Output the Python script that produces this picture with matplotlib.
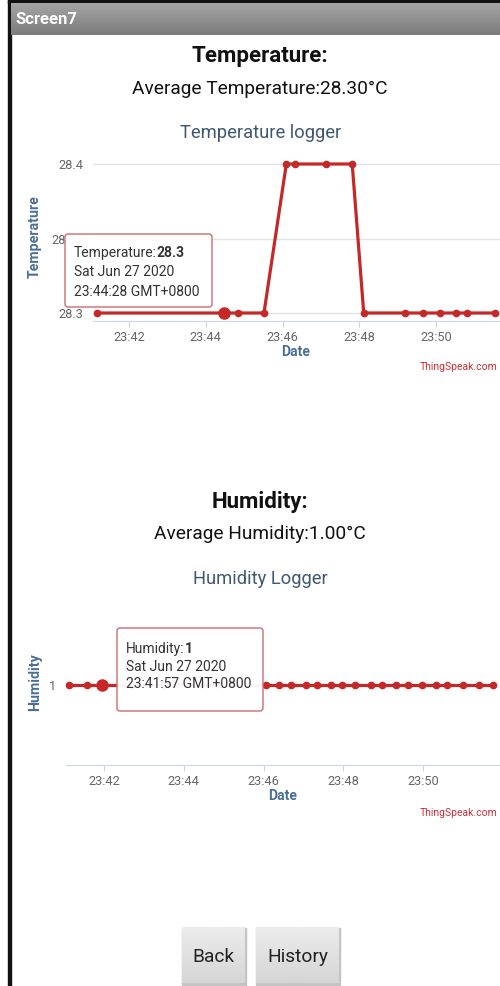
import matplotlib
matplotlib.use('Agg')
import matplotlib.pyplot as plt
from matplotlib.patches import Rectangle, FancyBboxPatch
import numpy as np

plt.rcParams['font.family'] = ['Roboto', 'DejaVu Sans']

W, H = 500, 986

# --- data ---
temp_times = ['23:41:10', '23:44:28', '23:44:51', '23:45:31', '23:46:06', '23:46:20',
              '23:47:08', '23:47:49', '23:48:07', '23:49:11', '23:49:39', '23:50:07',
              '23:50:31', '23:50:48', '23:51:33']
temp_values = [28.3, 28.3, 28.3, 28.3, 28.4, 28.4, 28.4, 28.4, 28.3, 28.3, 28.3, 28.3,
               28.3, 28.3, 28.3]
temp_yticks = [28.3, 28.35, 28.4]

hum_times = ['23:41:07', '23:41:34', '23:41:57', '23:42:40', '23:43:30', '23:44:28',
             '23:44:51', '23:45:31', '23:46:04', '23:46:24', '23:46:42', '23:47:04',
             '23:47:21', '23:47:42', '23:47:58', '23:48:18', '23:48:42', '23:48:58',
             '23:49:19', '23:49:37', '23:49:58', '23:50:19', '23:50:36', '23:51:00',
             '23:51:24', '23:51:46']
hum_values = [1] * len(hum_times)
hum_yticks = [1]

xtick_labels = ['23:42', '23:44', '23:46', '23:48', '23:50']

line_red = '#c62828'
title_blue = '#3e5870'
axis_blue = '#4a6f96'


def to_min(s):
    h, m, sec = [int(p) for p in s.split(':')]
    return (h - 23) * 60 + m + sec / 60.0


def px_axes(fig, x0, y0, x1, y1):
    return fig.add_axes([x0 / W, 1 - y1 / H, (x1 - x0) / W, (y1 - y0) / H])


fig = plt.figure(figsize=(W / 100, H / 100), dpi=100)

# background layer in pixel coordinates
bg = fig.add_axes([0, 0, 1, 1], zorder=0)
bg.set_xlim(0, W)
bg.set_ylim(H, 0)
bg.axis('off')
bg.add_patch(Rectangle((0, 0), W, H, color='white'))
bg.add_patch(Rectangle((8, 0), W - 8, 3, color='#111111'))
bg.add_patch(Rectangle((8, 0), 2.5, H, color='#111111'))
grad = np.linspace(0, 1, 50).reshape(-1, 1)
bg.imshow(grad, extent=(10.5, W, 35, 3), cmap=matplotlib.colors.LinearSegmentedColormap.from_list(
    'bar', ['#a4a4a4', '#7c7c7c']), aspect='auto', zorder=1)
bg.text(15, 19, 'Screen7', color='white', fontsize=12, fontweight='bold', va='center', ha='left', zorder=2)

# headings
bg.text(260, 56, 'Temperature:', fontsize=16, fontweight='bold', ha='center', va='center', color='#111111')
bg.text(260, 89, 'Average Temperature:28.30°C', fontsize=13.8, ha='center', va='center', color='#111111')
bg.text(261, 133, 'Temperature logger', fontsize=13.2, ha='center', va='center', color=title_blue)

bg.text(260, 502, 'Humidity:', fontsize=16, fontweight='bold', ha='center', va='center', color='#111111')
bg.text(260, 534, 'Average Humidity:1.00°C', fontsize=13.8, ha='center', va='center', color='#111111')
bg.text(260, 579, 'Humidity Logger', fontsize=13.2, ha='center', va='center', color=title_blue)

# axis titles and credits
bg.text(35, 237, 'Temperature', rotation=90, fontsize=10.2, fontweight='bold', ha='center', va='center', color=axis_blue)
bg.text(296, 352, 'Date', fontsize=10, fontweight='bold', ha='center', va='center', color=axis_blue)
bg.text(497, 367, 'ThingSpeak.com', fontsize=7.5, ha='right', va='center', color='#cf3035')

bg.text(35, 682, 'Humidity', rotation=90, fontsize=10.2, fontweight='bold', ha='center', va='center', color=axis_blue)
bg.text(283, 796, 'Date', fontsize=10, fontweight='bold', ha='center', va='center', color=axis_blue)
bg.text(497, 813, 'ThingSpeak.com', fontsize=7.5, ha='right', va='center', color='#cf3035')

# buttons
btn_cmap = matplotlib.colors.LinearSegmentedColormap.from_list('btn', ['#ececec', '#d6d6d6'])
for (bx0, bx1, label) in [(182, 245, 'Back'), (256, 339, 'History')]:
    bg.add_patch(Rectangle((bx0, 928), bx1 - bx0 + 0.5, 56.5, color='#c4c4c4', zorder=1))
    bg.imshow(grad, extent=(bx0, bx1, 983, 927), cmap=btn_cmap, aspect='auto', zorder=2)
    bg.text((bx0 + bx1) / 2, 957, label, fontsize=13.8, ha='center', va='center', color='#222222', zorder=3)
bg.set_xlim(0, W)
bg.set_ylim(H, 0)


def style_chart(ax, xlim, ylim, yticks, yticklabels, show_grid):
    ax.set_facecolor('none')
    ax.set_xlim(*xlim)
    ax.set_ylim(*ylim)
    for side in ['top', 'right', 'left']:
        ax.spines[side].set_visible(False)
    ax.spines['bottom'].set_color('#ccd6eb')
    ax.spines['bottom'].set_linewidth(0.8)
    ax.set_xticks([to_min(t + ':00') for t in xtick_labels])
    ax.set_xticklabels(xtick_labels)
    ax.tick_params(axis='x', length=4, width=0.8, color='#ccd6eb', labelsize=9.2,
                   labelcolor='#666666', pad=3)
    ax.set_yticks(yticks)
    ax.set_yticklabels(yticklabels)
    ax.tick_params(axis='y', length=0, labelsize=9.2, labelcolor='#666666', pad=7)
    if show_grid:
        ax.grid(axis='y', color='#e2e2e2', linewidth=1)
    ax.set_axisbelow(True)


# temperature chart: 23:42 at px 129, 23:50 at px 436
ppm_t = (436 - 129) / 8.0
t_xlim = (42 - (129 - 93) / ppm_t, 42 + (500 - 129) / ppm_t)
ppv_t = (313 - 164) / 0.1
t_ylim = (28.3 - (321 - 313) / ppv_t, 28.4 + (164 - 160) / ppv_t)
ax_t = px_axes(fig, 93, 160, 500, 321)
style_chart(ax_t, t_xlim, t_ylim, temp_yticks, ['28.3', '28.35', '28.4'], True)
tx = [to_min(t) for t in temp_times]
ax_t.plot(tx, temp_values, color=line_red, lw=2.3, marker='o', ms=4.5, clip_on=False, zorder=3)
ax_t.plot(tx[1], temp_values[1], 'o', color=line_red, ms=8, clip_on=False, zorder=4)

# humidity chart: 23:42 at px 104, 23:50 at px 423
ppm_h = (423 - 104) / 8.0
h_xlim = (42 - (104 - 66) / ppm_h, 42 + (500 - 104) / ppm_h)
ax_h = px_axes(fig, 66, 604, 500, 765)
style_chart(ax_h, h_xlim, (0.5, 1.5), hum_yticks, ['1'], False)
hx = [to_min(t) for t in hum_times]
ax_h.plot(hx, hum_values, color=line_red, lw=2.3, marker='o', ms=4.5, clip_on=False, zorder=3)
ax_h.plot(hx[2], hum_values[2], 'o', color=line_red, ms=8, clip_on=False, zorder=4)

# tooltips on top
fg = fig.add_axes([0, 0, 1, 1], zorder=10)
fg.set_facecolor('none')
fg.set_xlim(0, W)
fg.set_ylim(H, 0)
fg.axis('off')
renderer = fig.canvas.get_renderer()


def tooltip(x0, y0, x1, y1, name, value, line2, line3, tx0, ty):
    fg.add_patch(FancyBboxPatch((x0, y0), x1 - x0, y1 - y0, boxstyle='round,pad=0,rounding_size=3',
                                fc='white', ec='#c9666a', lw=1, alpha=0.96))
    t = fg.text(tx0, ty[0], name, fontsize=10, va='center', ha='left', color='#333333')
    bb = t.get_window_extent(renderer)
    fg.text(bb.x1, ty[0], value, fontsize=10, fontweight='bold', va='center', ha='left', color='#333333')
    fg.text(tx0, ty[1], line2, fontsize=10, va='center', ha='left', color='#333333')
    fg.text(tx0, ty[2], line3, fontsize=10, va='center', ha='left', color='#333333')


tooltip(65, 234, 212, 307, 'Temperature:', '28.3', 'Sat Jun 27 2020', '23:44:28 GMT+0800',
        74, (253, 272, 292))
tooltip(117, 628, 263, 711, 'Humidity:', '1', 'Sat Jun 27 2020', '23:41:57 GMT+0800',
        126, (649, 667, 684))

fig.savefig('out.png', dpi=100)
